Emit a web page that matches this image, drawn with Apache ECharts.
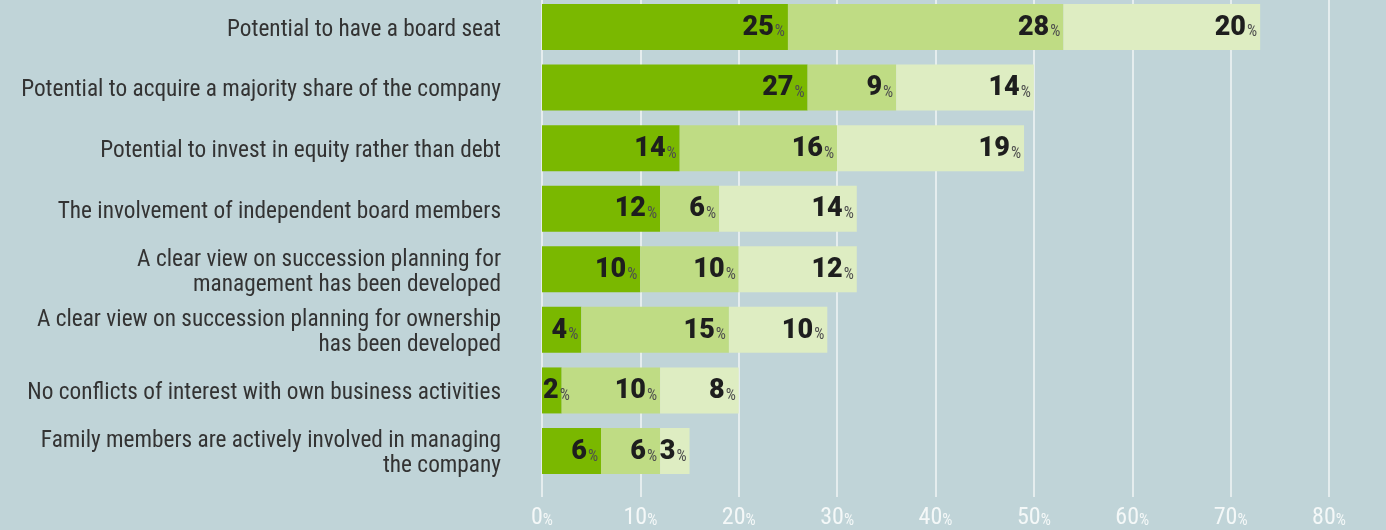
<!DOCTYPE html>
<html>
<head>
<meta charset="utf-8">
<style>
  html, body { margin: 0; padding: 0; background: #c0d4d8; }
  #chart { width: 1386px; height: 530px; }
</style>
<script src="https://cdn.jsdelivr.net/npm/echarts@6/dist/echarts.min.js"></script>
</head>
<body>
<div id="chart"></div>
<script>
// Survey factors, top to bottom
const categories = [
  'Potential to have a board seat',
  'Potential to acquire a majority share of the company',
  'Potential to invest in equity rather than debt',
  'The involvement of independent board members',
  'A clear view on succession planning for\nmanagement has been developed',
  'A clear view on succession planning for ownership\nhas been developed',
  'No conflicts of interest with own business activities',
  'Family members are actively involved in managing\nthe company'
];

// Stacked segments (percent), darkest first
const seriesA = [25, 27, 14, 12, 10, 4, 2, 6];
const seriesB = [28, 9, 16, 6, 10, 15, 10, 6];
const seriesC = [20, 14, 19, 14, 12, 10, 8, 3];

const xTicks = { min: 0, max: 80, interval: 10 };

const colors = ['#7ab800', '#bfdc84', '#deedc2'];
const narrow = '"Liberation Sans Narrow", "Roboto Condensed", "DejaVu Sans Condensed", sans-serif';
const boldFont = 'Roboto, "Liberation Sans", Arial, sans-serif';

// very short segments keep their label at the left edge
function valueLabel(values) {
  return values.map(v => ({
    value: v,
    label: { position: v < 3 ? 'insideLeft' : 'insideRight', distance: v < 3 ? 1 : 3 }
  }));
}

const labelStyle = {
  show: true,
  position: 'insideRight',
  distance: 3,
  formatter: p => `{n|${p.value}}{p|%}`,
  rich: {
    n: { fontFamily: boldFont, fontWeight: 900, fontSize: 27, color: '#1e1e1e', verticalAlign: 'bottom', padding: [2, 1, 0, 0] },
    p: { fontFamily: narrow, fontSize: 16, color: '#4e4e4e', verticalAlign: 'bottom', padding: [0, 0, 1, 0] }
  }
};

function makeSeries(name, values, color) {
  return {
    name,
    type: 'bar',
    stack: 'total',
    xAxisIndex: 0,
    yAxisIndex: 0,
    barWidth: 46,
    itemStyle: { color },
    label: labelStyle,
    emphasis: { disabled: true },
    data: valueLabel(values)
  };
}

const chart = echarts.init(document.getElementById('chart'), null, { renderer: 'canvas' });
chart.setOption({
  backgroundColor: '#c0d4d8',
  animation: false,
  grid: [
    { left: 542, right: 57, top: -3.3, height: 484.6, outerBoundsMode: 'none', containLabel: false },
    { left: 542, right: 57, top: 0, bottom: 33, outerBoundsMode: 'none', containLabel: false }
  ],
  xAxis: [
    {
      gridIndex: 0, type: 'value', ...xTicks,
      axisLine: { show: false }, axisTick: { show: false },
      axisLabel: { show: false }, splitLine: { show: false }
    },
    {
      gridIndex: 1, type: 'value', ...xTicks,
      axisLine: { show: false }, axisTick: { show: false },
      splitLine: { show: true, lineStyle: { color: '#f2f6f6', width: 1.5 } },
      axisLabel: {
        margin: 9,
        formatter: v => `{n|${v}}{p|%}`,
        rich: {
          n: { fontFamily: narrow, fontSize: 24, color: '#f4f8f8' },
          p: { fontFamily: narrow, fontSize: 16, color: '#f4f8f8', padding: [5, 0, 0, 0] }
        }
      }
    }
  ],
  yAxis: [
    {
      gridIndex: 0, type: 'category', inverse: true, data: categories,
      axisLine: { show: false }, axisTick: { show: false },
      axisLabel: {
        margin: 41,
        formatter: v => v.split('\n').map(s => `{c|${s}}`).join('\n'),
        rich: {
          c: { fontFamily: narrow, fontSize: 23.3, color: '#333', lineHeight: 25, align: 'right', padding: [6, 0, 0, 0] }
        },
        align: 'right'
      }
    },
    {
      gridIndex: 1, type: 'category', data: [''], show: false
    }
  ],
  series: [
    makeSeries('A', seriesA, colors[0]),
    makeSeries('B', seriesB, colors[1]),
    makeSeries('C', seriesC, colors[2])
  ]
});
</script>
</body>
</html>
